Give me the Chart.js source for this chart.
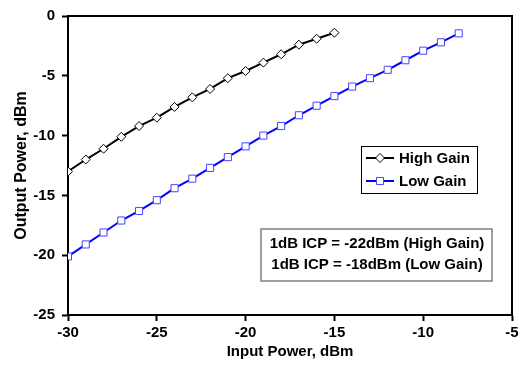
<!DOCTYPE html>
<html>
<head>
<meta charset="utf-8">
<script src="https://cdn.jsdelivr.net/npm/chart.js@4/dist/chart.umd.min.js"></script>
<style>
  html, body { margin: 0; padding: 0; background: #fff; }
  #wrap { position: relative; width: 531px; height: 369px; }
</style>
</head>
<body>
<div id="wrap"><canvas id="chart" width="531" height="369"></canvas></div>
<script>
// Input power (dBm) for each series
const inputHigh = [-30, -29, -28, -27, -26, -25, -24, -23, -22, -21, -20, -19, -18, -17, -16, -15];
const inputLow = [-30, -29, -28, -27, -26, -25, -24, -23, -22, -21, -20, -19, -18, -17, -16, -15,
                  -14, -13, -12, -11, -10, -9, -8];

// Output power (dBm)
const outHigh = [-13.0, -12.0, -11.1, -10.1, -9.2, -8.5, -7.6, -6.8, -6.1, -5.2, -4.6, -3.9, -3.2, -2.4, -1.9, -1.4];
const outLow = [-20.1, -19.1, -18.1, -17.1, -16.3, -15.4, -14.4, -13.6, -12.7, -11.8, -10.9, -10.0, -9.2, -8.3,
                -7.5, -6.7, -5.9, -5.2, -4.5, -3.7, -2.9, -2.2, -1.45];

const seriesNames = ['High Gain', 'Low Gain'];
const noteLines = ['1dB ICP = -22dBm (High Gain)', '1dB ICP = -18dBm (Low Gain)'];

const FONT = '"Liberation Sans", Arial, sans-serif';

const colors = {
    high: '#000000',
    low: '#0000ff',
    lowMarker: '#4444ff'
};

function toPoints(xs, ys) {
    return xs.map((x, i) => ({ x: x, y: ys[i] }));
}

// Frame around the plot area, legend box and note box
const overlay = {
    id: 'overlay',
    afterDraw(chart) {
        const ctx = chart.ctx;
        const a = chart.chartArea;
        ctx.save();

        // top and right edges of the plot frame
        ctx.strokeStyle = '#000';
        ctx.lineWidth = 2;
        ctx.beginPath();
        ctx.moveTo(a.left, a.top);
        ctx.lineTo(a.right, a.top);
        ctx.lineTo(a.right, a.bottom);
        ctx.stroke();

        // legend
        ctx.fillStyle = '#fff';
        ctx.fillRect(361, 146, 116, 47);
        ctx.lineWidth = 1;
        ctx.strokeStyle = '#000';
        ctx.strokeRect(361.5, 146.5, 116, 47);
        const ds = chart.data.datasets;
        [158, 181].forEach((yy, i) => {
            const d = ds[i];
            ctx.strokeStyle = d.borderColor;
            ctx.lineWidth = 2;
            ctx.beginPath();
            ctx.moveTo(366, yy);
            ctx.lineTo(394, yy);
            ctx.stroke();
            ctx.fillStyle = '#fff';
            ctx.strokeStyle = d.pointBorderColor;
            ctx.lineWidth = 1;
            Chart.helpers.drawPoint(ctx, {
                pointStyle: d.pointStyle, radius: d.pointRadius, borderWidth: 1, rotation: 0
            }, 380, yy);
            ctx.fillStyle = '#000';
            ctx.font = 'bold 15px ' + FONT;
            ctx.textBaseline = 'middle';
            ctx.textAlign = 'left';
            ctx.fillText(seriesNames[i], 399, yy + 1);
        });

        // note box
        ctx.fillStyle = '#fff';
        ctx.fillRect(261, 229, 231, 52);
        ctx.strokeStyle = '#808080';
        ctx.lineWidth = 1.5;
        ctx.strokeRect(261, 229, 231, 52);
        ctx.fillStyle = '#000';
        ctx.font = 'bold 15px ' + FONT;
        ctx.textAlign = 'center';
        ctx.textBaseline = 'middle';
        ctx.fillText(noteLines[0], 377, 244);
        ctx.fillText(noteLines[1], 377, 265);

        ctx.restore();
    }
};

new Chart(document.getElementById('chart'), {
    type: 'scatter',
    data: {
        datasets: [
            {
                label: seriesNames[0],
                data: toPoints(inputHigh, outHigh),
                showLine: true,
                borderColor: colors.high,
                borderWidth: 2,
                pointStyle: 'rectRot',
                pointRadius: 4.5,
                pointBorderWidth: 1,
                pointBorderColor: colors.high,
                pointBackgroundColor: '#fff'
            },
            {
                label: seriesNames[1],
                data: toPoints(inputLow, outLow),
                showLine: true,
                borderColor: colors.low,
                borderWidth: 2,
                pointStyle: 'rect',
                pointRadius: 5,
                pointBorderWidth: 1,
                pointBorderColor: colors.lowMarker,
                pointBackgroundColor: '#fff'
            }
        ]
    },
    options: {
        responsive: false,
        animation: false,
        layout: { padding: { left: 0, top: 16, right: 19, bottom: 8 } },
        plugins: {
            legend: { display: false },
            tooltip: { enabled: false }
        },
        scales: {
            x: {
                type: 'linear',
                min: -30,
                max: -5,
                ticks: { stepSize: 5, color: '#000', font: { family: FONT, size: 15, weight: 'bold' }, padding: 3 },
                grid: { drawOnChartArea: false, drawTicks: true, tickLength: 6, color: '#000', tickWidth: 2 },
                border: { color: '#000', width: 2 },
                title: {
                    display: true, text: 'Input Power, dBm', color: '#000',
                    font: { family: FONT, size: 15, weight: 'bold' }, padding: { top: 2, bottom: 0 }
                },
                afterFit(scale) { scale.height = 46; }
            },
            y: {
                type: 'linear',
                min: -25,
                max: 0,
                ticks: { stepSize: 5, color: '#000', font: { family: FONT, size: 15, weight: 'bold' }, padding: 7 },
                grid: { drawOnChartArea: false, drawTicks: true, tickLength: 6, color: '#000', tickWidth: 2 },
                border: { color: '#000', width: 2 },
                title: {
                    display: true, text: 'Output Power, dBm', color: '#000',
                    font: { family: FONT, size: 16, weight: 'bold' }, padding: { top: 12, bottom: 0 }
                },
                afterFit(scale) { scale.width = 68; }
            }
        }
    },
    plugins: [overlay]
});
</script>
</body>
</html>
